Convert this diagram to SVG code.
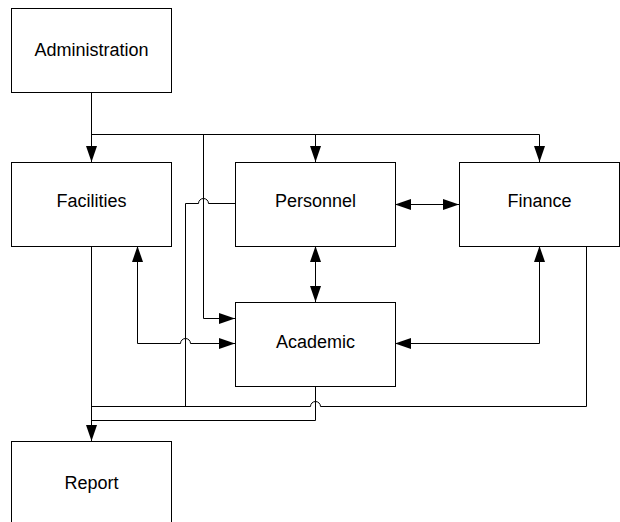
<svg xmlns="http://www.w3.org/2000/svg" width="620" height="522" viewBox="0 0 620 522">
<style>
.box{fill:#fff;stroke:#000;stroke-width:1}
.lbl{font-family:"Liberation Sans",Arial,sans-serif;font-size:18px;fill:#000;text-anchor:middle;dominant-baseline:central}
.c{fill:none;stroke:#000;stroke-width:1}
.e{marker-end:url(#ah)}
.b{marker-start:url(#ah);marker-end:url(#ah)}
</style>
<defs>
<marker id="ah" markerUnits="userSpaceOnUse" markerWidth="16" markerHeight="12" refX="16" refY="6" orient="auto-start-reverse" viewBox="0 0 16 12">
<path d="M0,0.5 L16,6 L0,11.5 z" fill="#000"/>
</marker>
</defs>
<rect width="620" height="522" fill="#fff"/>
<g id="connectors">
<path class="c e" d="M91.5,92 V162"/>
<path class="c e" d="M91.5,134.5 H539.5 V162"/>
<path class="c e" d="M315.5,134.5 V162"/>
<path class="c e" d="M203.5,134.5 V318.5 H235"/>
<path class="c b" d="M395,204.5 H459"/>
<path class="c b" d="M315.5,246 V302"/>
<path class="c b" d="M137.5,246 V343.5 H180.5 a5,5 0 0 1 10,0 H235"/>
<path class="c b" d="M395,343.5 H539.5 V246"/>
<path class="c" d="M586.5,246 V406.5 H320.5 a5,5 0 0 0 -10,0 H91.5"/>
<path class="c" d="M315.5,386 V420.5 H91.5"/>
<path class="c e" d="M91.5,246 V441"/>
<path class="c" d="M235,203.5 H208.5 a5,5 0 0 0 -10,0 H185.5 V406.5 H170"/>
</g>
<g id="administration"><rect class="box" x="11.5" y="8.5" width="160" height="84"/><text class="lbl" x="91.5" y="50">Administration</text></g>
<g id="facilities"><rect class="box" x="11.5" y="162.5" width="160" height="84"/><text class="lbl" x="91.5" y="201">Facilities</text></g>
<g id="personnel"><rect class="box" x="235.5" y="162.5" width="160" height="84"/><text class="lbl" x="315.5" y="201">Personnel</text></g>
<g id="finance"><rect class="box" x="459.5" y="162.5" width="160" height="84"/><text class="lbl" x="539.5" y="201">Finance</text></g>
<g id="academic"><rect class="box" x="235.5" y="302.5" width="160" height="84"/><text class="lbl" x="315.5" y="342">Academic</text></g>
<g id="report"><rect class="box" x="11.5" y="441.5" width="160" height="84"/><text class="lbl" x="91.5" y="483">Report</text></g>
</svg>
